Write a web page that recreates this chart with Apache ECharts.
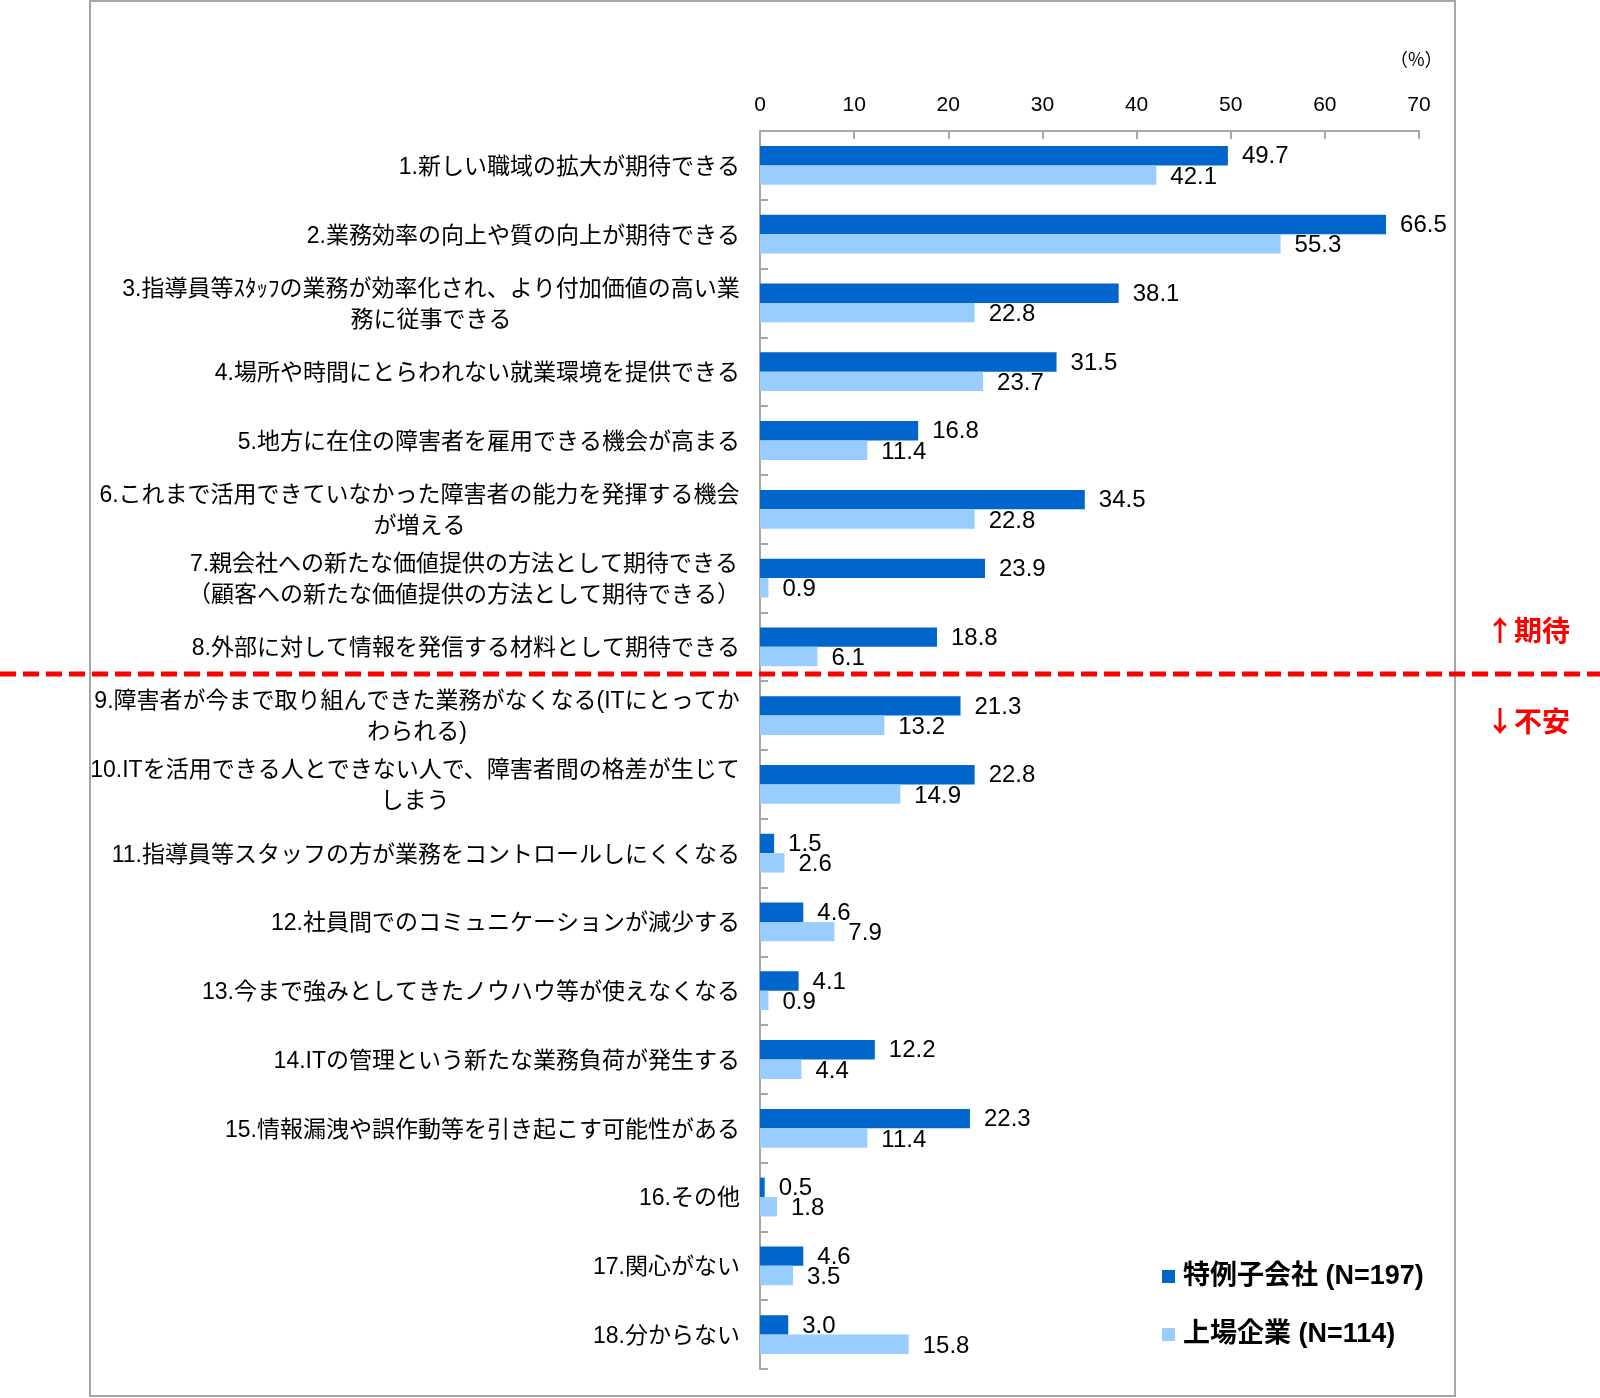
<!DOCTYPE html>
<html>
<head>
<meta charset="utf-8">
<script src="https://cdn.jsdelivr.net/npm/echarts@6/dist/echarts.min.js"></script>
<style>
  html, body { margin: 0; padding: 0; background: #fff; }
  #main { width: 1600px; height: 1398px; }
</style>
</head>
<body>
<div id="main"></div>
<script>
// 項目（改行は元の図の折り返し位置）
var categories = [
  '1.新しい職域の拡大が期待できる',
  '2.業務効率の向上や質の向上が期待できる',
  '3.指導員等ｽﾀｯﾌの業務が効率化され、より付加価値の高い業\n務に従事できる',
  '4.場所や時間にとらわれない就業環境を提供できる',
  '5.地方に在住の障害者を雇用できる機会が高まる',
  '6.これまで活用できていなかった障害者の能力を発揮する機会\nが増える',
  '7.親会社への新たな価値提供の方法として期待できる\n（顧客への新たな価値提供の方法として期待できる）',
  '8.外部に対して情報を発信する材料として期待できる',
  '9.障害者が今まで取り組んできた業務がなくなる(ITにとってか\nわられる)',
  '10.ITを活用できる人とできない人で、障害者間の格差が生じて\nしまう',
  '11.指導員等スタッフの方が業務をコントロールしにくくなる',
  '12.社員間でのコミュニケーションが減少する',
  '13.今まで強みとしてきたノウハウ等が使えなくなる',
  '14.ITの管理という新たな業務負荷が発生する',
  '15.情報漏洩や誤作動等を引き起こす可能性がある',
  '16.その他',
  '17.関心がない',
  '18.分からない'
];
var tokureiName = '特例子会社 (N=197)';
var jojoName = '上場企業 (N=114)';
var tokurei = [49.7, 66.5, 38.1, 31.5, 16.8, 34.5, 23.9, 18.8, 21.3, 22.8, 1.5, 4.6, 4.1, 12.2, 22.3, 0.5, 4.6, 3.0];
var jojo = [42.1, 55.3, 22.8, 23.7, 11.4, 22.8, 0.9, 6.1, 13.2, 14.9, 2.6, 7.9, 0.9, 4.4, 11.4, 1.8, 3.5, 15.8];
var xTicks = [0, 10, 20, 30, 40, 50, 60, 70];

var jpFont = "'Noto Sans CJK JP', sans-serif";
var mixFont = "'Liberation Sans', 'Noto Sans CJK JP', sans-serif";
var numFont = "'Liberation Sans', Arial, sans-serif";
var labelSize = 23;

// 2行のラベルは行ごとに中央揃えにする（最長行の幅を測る）
var ctx = document.createElement('canvas').getContext('2d');
ctx.font = labelSize + 'px ' + mixFont;
var rich = {};
categories.forEach(function (c, i) {
  var lines = c.split('\n');
  if (lines.length > 1) {
    var w = 0;
    lines.forEach(function (l) { w = Math.max(w, ctx.measureText(l).width); });
    rich['c' + i] = {
      width: Math.ceil(w), align: 'center',
      fontSize: labelSize, lineHeight: 31, fontFamily: mixFont, color: '#000'
    };
  }
});

var chart = echarts.init(document.getElementById('main'));
var option = {
  animation: false,
  backgroundColor: '#fff',
  grid: { left: 760, right: 181, top: 131, bottom: 29, containLabel: false },
  legend: {
    orient: 'vertical', left: 1162, top: 1263, padding: 0,
    itemWidth: 13, itemHeight: 13, itemGap: 31, icon: 'rect',
    textStyle: { fontSize: 27, fontWeight: 'bold', fontFamily: mixFont, color: '#000', padding: [2, 0, 0, 3] },
    data: [tokureiName, jojoName]
  },
  xAxis: {
    type: 'value', position: 'top', min: xTicks[0], max: xTicks[xTicks.length - 1], interval: 10,
    axisLine: { show: true, lineStyle: { color: '#A6A6A6', width: 2 } },
    axisTick: { show: true, inside: true, length: 8, lineStyle: { color: '#A6A6A6', width: 2 } },
    axisLabel: { fontSize: 21, fontFamily: numFont, color: '#000', margin: 15 },
    splitLine: { show: false }
  },
  yAxis: {
    type: 'category', inverse: true, data: categories,
    axisLine: { show: true, lineStyle: { color: '#A6A6A6', width: 2 } },
    axisTick: { show: true, inside: true, length: 8, lineStyle: { color: '#A6A6A6', width: 2 } },
    axisLabel: {
      fontSize: labelSize, fontFamily: mixFont, color: '#000', margin: 20, lineHeight: 31,
      interval: 0, align: 'right', padding: [4, 0, 0, 0],
      formatter: function (v) {
        var lines = v.split('\n');
        if (lines.length === 1) return v;
        var key = 'c' + categories.indexOf(v);
        return lines.map(function (l) { return '{' + key + '|' + l + '}'; }).join('\n');
      },
      rich: rich
    }
  },
  series: [
    {
      name: tokureiName, type: 'bar', data: tokurei,
      barWidth: 19.4, barGap: '0%',
      itemStyle: { color: '#0066CC' },
      label: {
        show: true, position: 'right', distance: 14, offset: [0, 1],
        fontSize: 24, fontFamily: numFont, color: '#000',
        formatter: function (p) { return p.value.toFixed(1); }
      }
    },
    {
      name: jojoName, type: 'bar', data: jojo,
      barWidth: 19.4, barGap: '0%',
      itemStyle: { color: '#99CCFF' },
      label: {
        show: true, position: 'right', distance: 14, offset: [0, 2],
        fontSize: 24, fontFamily: numFont, color: '#000',
        formatter: function (p) { return p.value.toFixed(1); }
      }
    }
  ],
  graphic: [
    {
      type: 'rect', z: -1, silent: true,
      shape: { x: 90, y: 1, width: 1365, height: 1395 },
      style: { fill: 'none', stroke: '#A6A6A6', lineWidth: 2 }
    },
    {
      type: 'line', z: 10, silent: true,
      shape: { x1: 0, y1: 674, x2: 1600, y2: 674 },
      style: { stroke: '#FF0000', lineWidth: 5, lineDash: [16, 7] }
    },
    {
      type: 'text', left: 1486, top: 616, silent: true,
      style: { text: '↑期待', fill: '#FF0000', font: 'bold 28px ' + jpFont }
    },
    {
      type: 'text', left: 1486, top: 707, silent: true,
      style: { text: '↓不安', fill: '#FF0000', font: 'bold 28px ' + jpFont }
    },
    {
      type: 'text', left: 1390, top: 50, silent: true,
      style: { text: '（%）', fill: '#000', font: '18px ' + jpFont }
    }
  ]
};
chart.setOption(option);
</script>
</body>
</html>
